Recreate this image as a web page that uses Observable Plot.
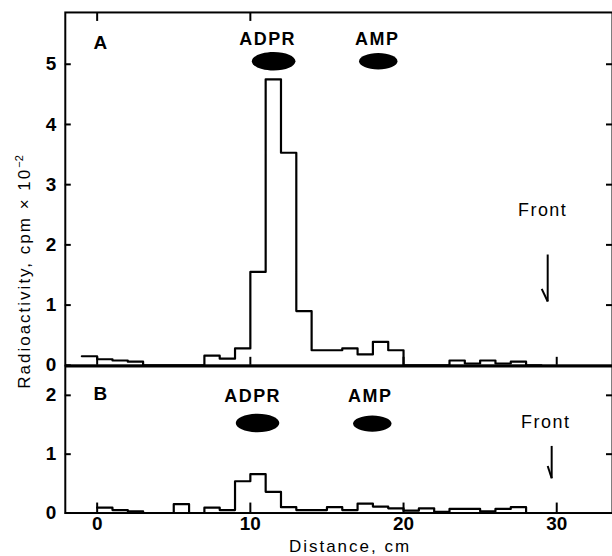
<!DOCTYPE html>
<html><head><meta charset="utf-8">
<script src="https://cdn.jsdelivr.net/npm/d3@7"></script>
<script src="https://cdn.jsdelivr.net/npm/@observablehq/plot@0.6"></script>
<style>
html,body{margin:0;padding:0;background:#fff;overflow:hidden;}
#root{position:relative;width:612px;height:556px;overflow:hidden;font-family:"Liberation Sans",Arial,sans-serif;color:#000;}
#root svg{position:absolute;left:0;}
.ytitle{position:absolute;left:24px;top:272px;transform:translate(-50%,-50%) rotate(-90deg);white-space:nowrap;font-size:17px;letter-spacing:2px;}
.ytitle sup{font-size:11px;letter-spacing:0;}
.xtitle{position:absolute;left:350px;top:547px;transform:translate(-50%,-50%);white-space:nowrap;font-size:17px;letter-spacing:2px;}
</style></head><body><div id="root"></div>
<script>
// Panel A: 1-cm bins (start of bin, cm) and radioactivity (cpm x 10^-2)
const binsA = [-1,0,1,2,3,4,5,6,7,8,9,10,11,12,13,14,15,16,17,18,19,20,21,22,23,24,25,26,27,28];
const countsA = [0.15,0.10,0.08,0.06,0,0,0,0,0.16,0.11,0.28,1.55,4.75,3.53,0.90,0.25,0.25,0.28,0.18,0.39,0.25,0,0,0,0.08,0.03,0.08,0.03,0.06,0];
// Panel B
const binsB = [0,1,2,3,4,5,6,7,8,9,10,11,12,13,14,15,16,17,18,19,20,21,22,23,24,25,26,27,28];
const countsB = [0.09,0.05,0.03,0,0,0.15,0,0.09,0.05,0.54,0.66,0.36,0.10,0.05,0.05,0.10,0.05,0.16,0.11,0.08,0.04,0.08,0.02,0.07,0.07,0.03,0.07,0.10,0];

// Tick values
const xTicks = [0,10,20,30];
const xTopTicksA = [0,10];
const yTicksA = [0,1,2,3,4,5];
const yTicksB = [0,1,2];

// Annotations (data coordinates)
const markersA = [{name:"ADPR", x:11.52, y:5.05}, {name:"AMP", x:18.35, y:5.05}];
const markersB = [{name:"ADPR", x:10.47, y:1.53}, {name:"AMP", x:17.96, y:1.52}];
const markerLabelsA = [{t:"ADPR", x:11.13, y:5.42}, {t:"AMP", x:18.28, y:5.42}];
const markerLabelsB = [{t:"ADPR", x:10.15, y:1.98}, {t:"AMP", x:17.83, y:1.98}];
const panelLabelsA = [{t:"A", x:0.26, y:5.35}];
const panelLabelsB = [{t:"B", x:0.26, y:2.02}];
const frontLabelsA = [{t:"Front", x:29.08, y:2.58}];
const frontLabelsB = [{t:"Front", x:29.28, y:1.54}];
const arrowA = [{x1:29.41, y1:1.84, x2:29.41, y2:1.06}, {x1:29.02, y1:1.27, x2:29.41, y2:1.06}];
const arrowB = [{x1:29.67, y1:1.14, x2:29.67, y2:0.59}, {x1:29.41, y1:0.80, x2:29.67, y2:0.59}];

const xDomain = [-2.08, 33.64];

const K = 0.5523;
const ellipse = {draw(ctx, size) {
  const ry = Math.sqrt(size / Math.PI), rx = ry * 2.35;
  ctx.moveTo(rx, 0);
  ctx.bezierCurveTo(rx, ry*K, rx*K, ry, 0, ry);
  ctx.bezierCurveTo(-rx*K, ry, -rx, ry*K, -rx, 0);
  ctx.bezierCurveTo(-rx, -ry*K, -rx*K, -ry, 0, -ry);
  ctx.bezierCurveTo(rx*K, -ry, rx, -ry*K, rx, 0);
  ctx.closePath();
}};

function steps(bins, counts) {
  const rows = bins.map((x, i) => ({x, v: counts[i]}));
  rows.push({x: bins[bins.length-1] + 1, v: counts[counts.length-1]});
  return rows;
}

const blank = () => "";
const intFmt = d3.format("d");
const font = {fontFamily: "Liberation Sans, Arial, sans-serif", fontSize: "19px", fontWeight: "bold", background: "transparent", overflow: "visible"};

function annotations(markers, markerLabels, panelLabels, frontLabels, arrow) {
  return [
    Plot.dot(markers.filter(d => d.name === "ADPR"), {x: "x", y: "y", r: 9.3, symbol: ellipse, fill: "black", stroke: "none"}),
    Plot.dot(markers.filter(d => d.name === "AMP"), {x: "x", y: "y", r: 8.2, symbol: ellipse, fill: "black", stroke: "none"}),
    Plot.text(markerLabels, {x: "x", y: "y", text: "t", fontSize: 18, fontWeight: "bold", textAnchor: "middle", lineAnchor: "middle"}),
    Plot.text(panelLabels, {x: "x", y: "y", text: "t", fontSize: 19, fontWeight: "bold", textAnchor: "middle", lineAnchor: "middle"}),
    Plot.text(frontLabels, {x: "x", y: "y", text: "t", fontSize: 18, fontWeight: "normal", textAnchor: "middle", lineAnchor: "middle"}),
    Plot.link(arrow, {x1: "x1", y1: "y1", x2: "x2", y2: "y2", stroke: "black", strokeWidth: 2})
  ];
}

const plotA = Plot.plot({
  width: 614, height: 367,
  marginLeft: 65, marginRight: 0, marginTop: 12, marginBottom: 1,
  style: font,
  x: {domain: xDomain},
  y: {domain: [0, 5.86]},
  marks: [
    Plot.frame({strokeWidth: 2}),
    Plot.axisY({anchor: "left", ticks: yTicksA, tickSize: -6, tickPadding: 15, tickFormat: intFmt, label: null, strokeWidth: 2}),
    Plot.axisY({anchor: "right", ticks: yTicksA.slice(1), tickSize: -7, tickFormat: blank, label: null, strokeWidth: 2}),
    Plot.axisX({anchor: "top", ticks: xTopTicksA, tickSize: -8, tickFormat: blank, label: null, strokeWidth: 2}),
    Plot.axisX({anchor: "bottom", ticks: xTicks, tickSize: -8, tickFormat: blank, label: null, strokeWidth: 2}),
    Plot.line(steps(binsA, countsA), {x: "x", y: "v", curve: "step-after", stroke: "black", strokeWidth: 2.2}),
    ...annotations(markersA, markerLabelsA, panelLabelsA, frontLabelsA, arrowA)
  ]
});

const plotB = Plot.plot({
  width: 614, height: 191,
  marginLeft: 65, marginRight: 0, marginTop: 1, marginBottom: 43,
  style: font,
  x: {domain: xDomain},
  y: {domain: [0, 2.49]},
  marks: [
    Plot.frame({strokeWidth: 2}),
    Plot.axisY({anchor: "left", ticks: yTicksB, tickSize: -6, tickPadding: 15, tickFormat: intFmt, label: null, strokeWidth: 2}),
    Plot.axisY({anchor: "right", ticks: yTicksB.slice(1), tickSize: -7, tickFormat: blank, label: null, strokeWidth: 2}),
    Plot.axisX({anchor: "bottom", ticks: xTicks, tickSize: -10, tickPadding: 14, tickFormat: intFmt, label: null, strokeWidth: 2}),
    Plot.line(steps(binsB, countsB), {x: "x", y: "v", curve: "step-after", stroke: "black", strokeWidth: 2.2}),
    ...annotations(markersB, markerLabelsB, panelLabelsB, frontLabelsB, arrowB)
  ]
});

const root = document.getElementById("root");
plotA.style.top = "0px";
plotB.style.top = "365px";
root.appendChild(plotA);
root.appendChild(plotB);
for (const svg of [plotA, plotB]) {
  d3.select(svg).selectAll('g[aria-label="text"] text').attr("letter-spacing", "1.5px");
}
const yt = document.createElement("div");
yt.className = "ytitle";
yt.innerHTML = "Radioactivity, cpm × 10<sup>−2</sup>";
root.appendChild(yt);
const xt = document.createElement("div");
xt.className = "xtitle";
xt.textContent = "Distance, cm";
root.appendChild(xt);
</script></body></html>
